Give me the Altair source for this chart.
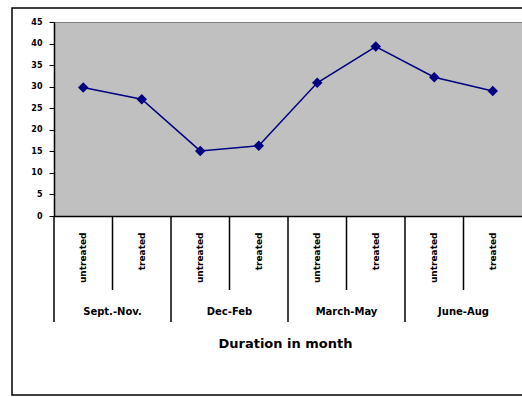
import altair as alt
import pandas as pd

months = ["Sept.-Nov.", "Dec-Feb", "March-May", "June-Aug"]
treatments = ["untreated", "treated"]
values = [29.8, 27.1, 15.1, 16.3, 30.9, 39.3, 32.2, 29.0]
y_ticks = [0, 5, 10, 15, 20, 25, 30, 35, 40, 45]
x_title = "Duration in month"

rows = []
i = 0
for m in months:
    for t in treatments:
        rows.append({"key": f"{m}|{t}", "month": m, "treatment": t, "value": values[i]})
        i += 1
df = pd.DataFrame(rows)
keys = list(df["key"])

xscale = alt.Scale(type="band", domain=keys, paddingInner=0, paddingOuter=0)
yscale = alt.Scale(domain=[0, 45], nice=False)

FONT = "DejaVu Sans"

x_axis = alt.Axis(
    title=x_title,
    labelExpr="split(datum.label, '|')[1]",
    labelAngle=270,
    labelFont=FONT,
    labelFontSize=9,
    labelFontWeight="bold",
    labelColor="black",
    labelPadding=16,
    ticks=False,
    domainColor="black",
    domainWidth=1.5,
    titleFont=FONT,
    titleFontSize=13,
    titleFontWeight="bold",
    titleColor="black",
    titleY=127,
    titleX=231,
    titleBaseline="middle",
    labelOverlap=False,
)

y_axis = alt.Axis(
    values=y_ticks,
    title=None,
    grid=False,
    tickSize=5,
    tickColor="black",
    labelPadding=7,
    labelFont=FONT,
    labelFontSize=8,
    labelFontWeight="bold",
    labelColor="black",
    domainColor="black",
    domainWidth=1.5,
)

def xc(band):
    return alt.X("key:N", scale=xscale, bandPosition=band, axis=x_axis)

base = alt.Chart(df)

line = base.mark_line(color="#000080", strokeWidth=1.5).encode(
    x=xc(0.5),
    y=alt.Y("value:Q", scale=yscale, axis=y_axis),
)
points = base.mark_point(shape="diamond", filled=True, color="#000080", size=110, opacity=1).encode(
    x=xc(0.5),
    y=alt.Y("value:Q", scale=yscale, axis=y_axis),
)

inner = alt.Chart(df[df.treatment == "treated"]).mark_rule(color="black", strokeWidth=1.5).encode(
    x=xc(0),
    y=alt.value(194),
    y2=alt.value(268),
)
group = alt.Chart(df[df.treatment == "untreated"]).mark_rule(color="black", strokeWidth=1.5).encode(
    x=xc(0),
    y=alt.value(194),
    y2=alt.value(300),
)
group_labels = alt.Chart(df[df.treatment == "treated"]).mark_text(
    font=FONT, fontSize=10, fontWeight="bold", color="black", baseline="middle"
).encode(
    x=xc(0),
    y=alt.value(290),
    text="month:N",
)

frame = alt.Chart(pd.DataFrame({"a": [0]})).mark_rect(
    fill="transparent", stroke="black", strokeWidth=1.5
).encode(
    x=alt.value(-42), x2=alt.value(480), y=alt.value(-14), y2=alt.value(373)
)

chart = alt.layer(line, points, inner, group, group_labels, frame).properties(
    width=468,
    height=194,
    autosize=alt.AutoSizeParams(type="none"),
    padding={"left": 54, "top": 22, "right": 0, "bottom": 181},
    background="white",
).configure_view(fill="#C0C0C0", stroke="#808080", strokeWidth=1)

chart.save("out.html", embed_options={"renderer": "svg", "actions": False})
